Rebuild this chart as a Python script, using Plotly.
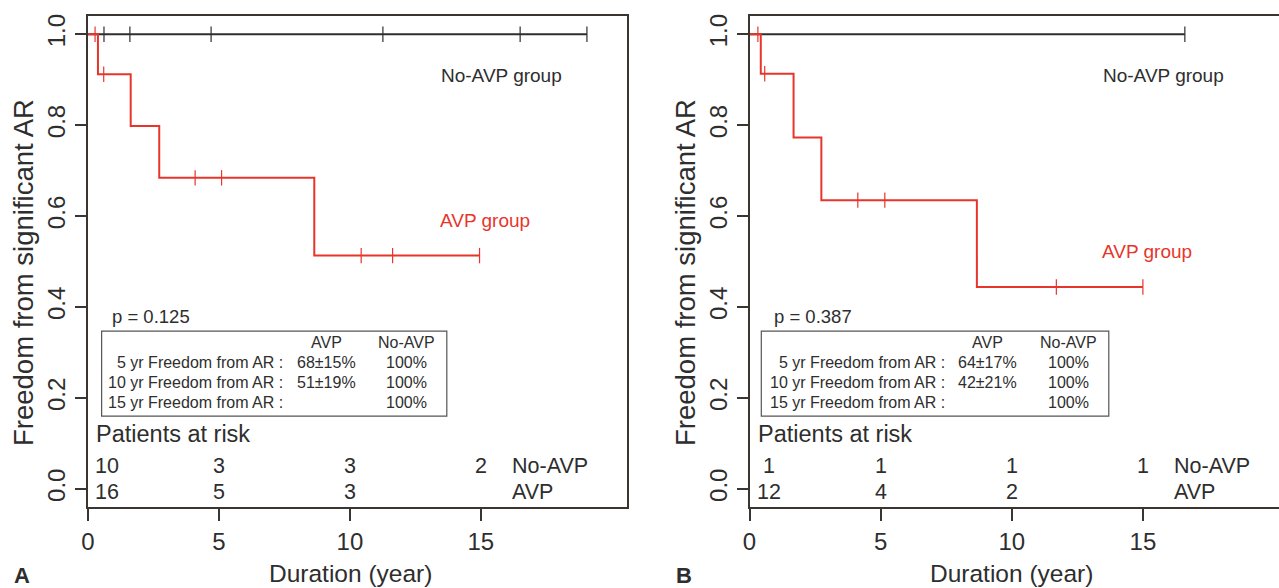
import plotly.graph_objects as go

# ---------------- data ----------------
# Panel A
a_avp_t = [0, 0.38, 1.63, 2.72, 8.64, 14.95]
a_avp_s = [1.0, 0.912, 0.798, 0.684, 0.513, 0.513]
a_avp_cens = [0.27, 0.60, 4.09, 5.10, 10.43, 11.63, 14.95]
a_noavp_t = [0, 19.05]
a_noavp_s = [1.0, 1.0]
a_noavp_cens = [0.61, 1.60, 4.70, 11.26, 16.50, 19.05]
a_p = "p = 0.125"
a_rows = ["5 yr Freedom from AR :", "10 yr Freedom from AR :", "15 yr Freedom from AR :"]
a_avp_vals = ["68±15%", "51±19%", ""]
a_noavp_vals = ["100%", "100%", "100%"]
a_risk_noavp = ["10", "3", "3", "2"]
a_risk_avp = ["16", "5", "3", ""]

# Panel B
b_avp_t = [0, 0.43, 1.68, 2.74, 8.67, 15.0]
b_avp_s = [1.0, 0.913, 0.773, 0.635, 0.444, 0.444]
b_avp_cens = [0.32, 0.58, 4.13, 5.16, 11.70, 15.0]
b_noavp_t = [0, 16.6]
b_noavp_s = [1.0, 1.0]
b_noavp_cens = [16.6]
b_p = "p = 0.387"
b_avp_vals = ["64±17%", "42±21%", ""]
b_noavp_vals = ["100%", "100%", "100%"]
b_risk_noavp = ["1", "1", "1", "1"]
b_risk_avp = ["12", "4", "2", ""]

risk_x = [0.74, 5, 10, 15]
x_ticks = [0, 5, 10, 15]
y_ticks = [0.0, 0.2, 0.4, 0.6, 0.8, 1.0]
y_ticklabels = ["0.0", "0.2", "0.4", "0.6", "0.8", "1.0"]
x_title = "Duration (year)"
y_title = "Freedom from significant AR"

RED = "#e8352b"
DARK = "#2e2e2e"
FRAME = "#3b3531"
FONT = "Liberation Sans, Arial, sans-serif"


def step_value(times, surv, t):
    v = surv[0]
    for ti, si in zip(times, surv):
        if ti <= t:
            v = si
    return v


W, H = 1279, 588
def px_x(p):
    return p / W
def px_y(p):
    return 1 - p / H

fig = go.Figure()

panels = [
    dict(xa="x", ya="y", avp_t=a_avp_t, avp_s=a_avp_s, avp_c=a_avp_cens,
         no_t=a_noavp_t, no_s=a_noavp_s, no_c=a_noavp_cens, p=a_p,
         avp_vals=a_avp_vals, no_vals=a_noavp_vals, rn=a_risk_noavp, ra=a_risk_avp,
         avp_label_y=0.59, box_x0=0.52, letter="A", letter_x=22, ytitle_x=23, xtitle_x=350),
    dict(xa="x2", ya="y2", avp_t=b_avp_t, avp_s=b_avp_s, avp_c=b_avp_cens,
         no_t=b_noavp_t, no_s=b_noavp_s, no_c=b_noavp_cens, p=b_p,
         avp_vals=b_avp_vals, no_vals=b_noavp_vals, rn=b_risk_noavp, ra=b_risk_avp,
         avp_label_y=0.523, box_x0=0.45, letter="B", letter_x=684, ytitle_x=685, xtitle_x=1011),
]

annotations = []
shapes = []
for pn in panels:
    xa, ya = pn["xa"], pn["ya"]
    # No-AVP curve
    fig.add_trace(go.Scatter(x=pn["no_t"], y=pn["no_s"], mode="lines", line_shape="hv",
                             line=dict(color=DARK, width=2), xaxis=xa, yaxis=ya, showlegend=False))
    fig.add_trace(go.Scatter(x=pn["no_c"], y=[step_value(pn["no_t"], pn["no_s"], t) for t in pn["no_c"]],
                             mode="markers", marker=dict(symbol="line-ns", size=11, line=dict(color=DARK, width=1.2)),
                             xaxis=xa, yaxis=ya, showlegend=False))
    # AVP curve
    fig.add_trace(go.Scatter(x=pn["avp_t"], y=pn["avp_s"], mode="lines", line_shape="hv",
                             line=dict(color=RED, width=2), xaxis=xa, yaxis=ya, showlegend=False))
    fig.add_trace(go.Scatter(x=pn["avp_c"], y=[step_value(pn["avp_t"], pn["avp_s"], t) for t in pn["avp_c"]],
                             mode="markers", marker=dict(symbol="line-ns", size=11, line=dict(color=RED, width=1.2)),
                             xaxis=xa, yaxis=ya, showlegend=False))

    def txt(x, y, s, size=16, color=DARK, xanchor="center"):
        annotations.append(dict(x=x, y=y, xref=xa, yref=ya, text=s, showarrow=False,
                                xanchor=xanchor, yanchor="middle",
                                font=dict(family=FONT, size=size, color=color)))

    txt(15.8, 0.91, "No-AVP group", 19)
    txt(15.15, pn["avp_label_y"], "AVP group", 19, RED)
    txt(0.84, 0.38, pn["p"], 18.5, xanchor="left")
    # table box
    shapes.append(dict(type="rect", xref=xa, yref=ya, x0=pn["box_x0"], x1=13.70, y0=0.160, y1=0.347,
                       line=dict(color="#555", width=1.2)))
    txt(9.09, 0.322, "AVP", 16)
    txt(12.17, 0.322, "No-AVP", 16)
    row_y = [0.278, 0.234, 0.190]
    for i, r in enumerate(a_rows):
        txt(7.52, row_y[i], r, 16, xanchor="right")
        txt(9.09, row_y[i], pn["avp_vals"][i], 16)
        txt(12.17, row_y[i], pn["no_vals"][i], 16)
    txt(0.24, 0.12, "Patients at risk", 23.5, xanchor="left")
    for xv, s in zip(risk_x, pn["rn"]):
        txt(xv, 0.050, s, 21.5)
    for xv, s in zip(risk_x, pn["ra"]):
        txt(xv, -0.008, s, 21.5)
    txt(16.1, 0.050, "No-AVP", 21.5, xanchor="left")
    txt(16.1, -0.008, "AVP", 21.5, xanchor="left")
    # panel letter
    annotations.append(dict(x=px_x(pn["letter_x"]), y=px_y(575), xref="paper", yref="paper",
                            text="<b>" + pn["letter"] + "</b>",
                            showarrow=False, xanchor="center", yanchor="middle",
                            font=dict(family=FONT, size=22, color=DARK)))
    # axis titles
    annotations.append(dict(x=px_x(pn["xtitle_x"]), y=px_y(573.5), xref="paper", yref="paper",
                            text=x_title, showarrow=False, xanchor="center", yanchor="middle",
                            font=dict(family=FONT, size=24.5, color=DARK)))
    annotations.append(dict(x=px_x(pn["ytitle_x"]), y=px_y(273), xref="paper", yref="paper",
                            text=y_title, textangle=-90, showarrow=False, xanchor="center", yanchor="middle",
                            font=dict(family=FONT, size=27.5, color=DARK)))

xcommon = dict(tickvals=x_ticks, ticks="outside", ticklen=12, tickwidth=1.5, tickcolor=FRAME,
               showline=True, linecolor=FRAME, linewidth=2, showgrid=False, zeroline=False,
               automargin=False,
               tickfont=dict(family=FONT, size=24, color=DARK))
ycommon = dict(range=[-0.04, 1.04], tickvals=y_ticks, ticktext=y_ticklabels, tickangle=-90,
               ticks="outside", ticklen=11, tickwidth=1.5, tickcolor=FRAME,
               showline=True, linecolor=FRAME, linewidth=2, showgrid=False, zeroline=False,
               automargin=False,
               tickfont=dict(family=FONT, size=24, color=DARK))

yd = [px_y(507), px_y(16)]
fig.update_layout(
    width=W, height=H, margin=dict(l=0, r=0, t=0, b=0, autoexpand=False),
    paper_bgcolor="white", plot_bgcolor="white",
    xaxis=dict(domain=[px_x(88), px_x(627)], range=[0, 20.58], anchor="y", mirror=True, **xcommon),
    yaxis=dict(domain=yd, anchor="x", mirror=True, **ycommon),
    xaxis2=dict(domain=[px_x(749.5), 1.0], range=[0, 20.19], anchor="y2", mirror=True, **xcommon),
    yaxis2=dict(domain=yd, anchor="x2", mirror=False, **ycommon),
    annotations=annotations, shapes=shapes,
)

fig.write_html("out.html", config={"displayModeBar": False},
               post_script="document.body.style.margin='0px';document.body.style.overflow='hidden';")
